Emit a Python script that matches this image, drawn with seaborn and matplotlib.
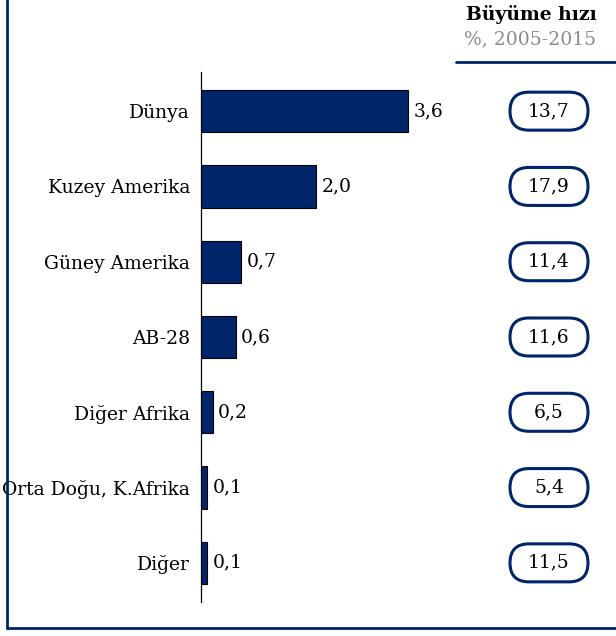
import matplotlib.pyplot as plt
import seaborn as sns
from matplotlib.lines import Line2D
from matplotlib.patches import FancyBboxPatch
from matplotlib.transforms import blended_transform_factory

regions = ["Dünya", "Kuzey Amerika", "Güney Amerika", "AB-28",
           "Diğer Afrika", "Orta Doğu, K.Afrika", "Diğer"]
values = [3.6, 2.0, 0.7, 0.6, 0.2, 0.1, 0.1]
growth = [13.7, 17.9, 11.4, 11.6, 6.5, 5.4, 11.5]

navy = "#00256b"

sns.set_theme(style="white")
plt.rcParams["font.family"] = ["DejaVu Serif", "Liberation Serif"]
plt.rcParams["text.color"] = "black"
plt.rcParams["ytick.labelcolor"] = "black"
FS = 13.5

def tr(v):
    return ("%.1f" % v).replace(".", ",")

fig = plt.figure(figsize=(6.16, 6.36), dpi=100)
ax = fig.add_axes([201 / 616, 1 - 602 / 636, 260 / 616, 530 / 636])

sns.barplot(x=values, y=regions, orient="h", color=navy, saturation=1,
            edgecolor="black", linewidth=0.8, width=0.56, ax=ax)
ax.bar_label(ax.containers[0], labels=[tr(v) for v in values],
             padding=4, fontsize=FS, color="black")

# growth rate pills (figure x, data y)
trans = blended_transform_factory(fig.transFigure, ax.transData)
px_per_row = 530 / 7.04
box_w, box_h = 78, 38
h_data = box_h / px_per_row
for i, g in enumerate(growth):
    pill = FancyBboxPatch((510 / 616, i - h_data / 2), box_w / 616, h_data,
                          boxstyle="round,pad=0,rounding_size=%f" % (box_h / 2 / 616),
                          mutation_aspect=h_data / (box_h / 616),
                          transform=trans, fc="white", ec=navy, lw=2.2,
                          clip_on=False, zorder=3)
    ax.add_patch(pill)
    ax.text(549 / 616, i, tr(g), transform=trans, ha="center", va="center",
            fontsize=FS, clip_on=False, zorder=5)

ax.set_xlim(0, 260 / 57.5)
ax.set_ylim(6.52, -0.52)
ax.set_xticks([])
ax.set_xlabel("")
ax.set_ylabel("")
ax.tick_params(axis="y", length=0, pad=8, labelsize=FS)
for s in ["top", "right", "bottom"]:
    ax.spines[s].set_visible(False)
ax.spines["left"].set_color("black")
ax.spines["left"].set_linewidth(0.9)

# header
fig.text(531 / 616, 1 - 15 / 636, "Büyüme hızı", ha="center", va="center",
         fontsize=FS, fontweight="bold")
fig.text(530 / 616, 1 - 39 / 636, "%, 2005-2015", ha="center", va="center",
         fontsize=FS, color="#8c8c8c")
fig.add_artist(Line2D([456 / 616, 1], [1 - 62 / 636] * 2, color=navy, lw=2))

# frame on left and bottom
fig.add_artist(Line2D([7 / 616, 7 / 616], [1, 1 - 628 / 636], color=navy, lw=2))
fig.add_artist(Line2D([7 / 616, 1], [1 - 628 / 636] * 2, color=navy, lw=2))

fig.savefig("out.png", dpi=100)
